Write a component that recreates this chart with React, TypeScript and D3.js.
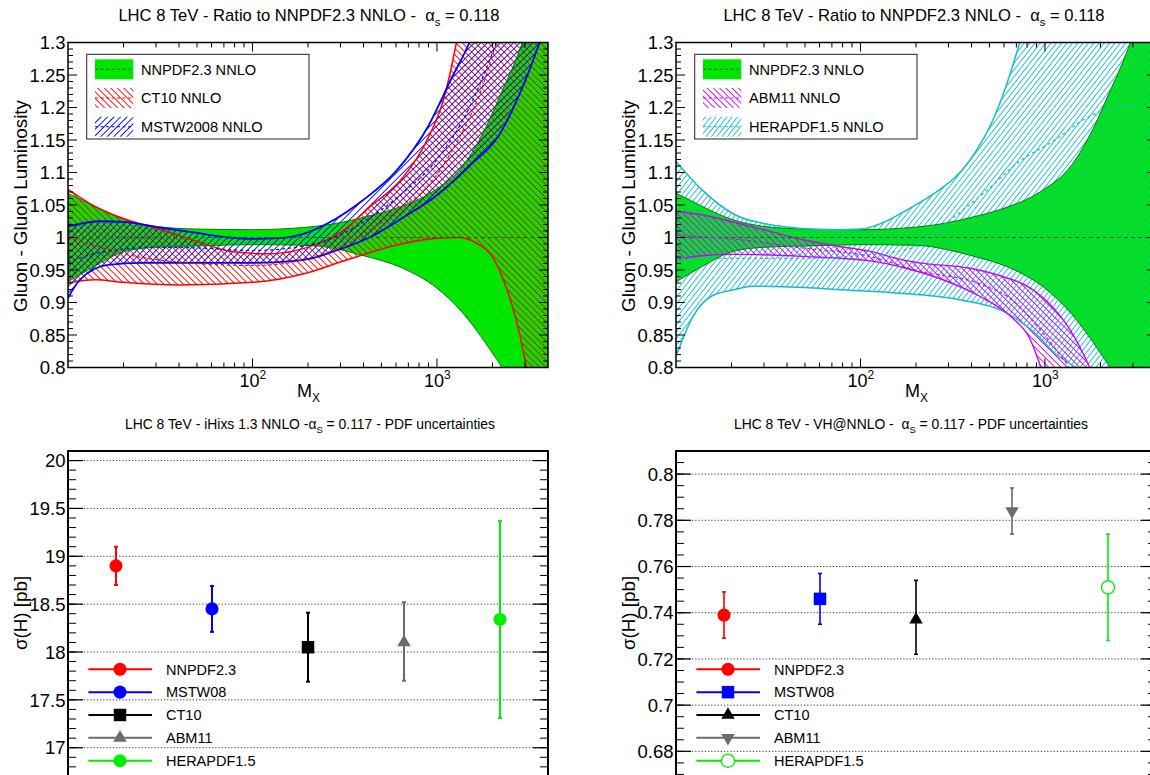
import React from "react";
import * as d3 from "d3";

const FONT = "'Liberation Sans', Arial, Helvetica, sans-serif";

// ---------------- Top panels: gluon-gluon luminosity ratios ----------------
// NNPDF2.3 NNLO (reference band)
const nnpdfUpM = [10, 12, 15, 20, 30, 50, 100, 200, 300, 400, 600, 940, 1400, 1830, 2250, 2600, 2900, 4000];
const nnpdfUp = [1.068, 1.057, 1.043, 1.028, 1.017, 1.013, 1.012, 1.016, 1.023, 1.031, 1.045, 1.07, 1.112, 1.168, 1.225, 1.265, 1.3, 1.48];
const nnpdfLoM = [10, 12, 15, 20, 30, 50, 100, 200, 300, 400, 650, 1000, 1350, 1650, 2000, 2250, 3000, 4000];
const nnpdfLo = [0.932, 0.945, 0.961, 0.978, 0.985, 0.987, 0.989, 0.988, 0.981, 0.972, 0.953, 0.922, 0.887, 0.856, 0.822, 0.8, 0.7, 0.55];
const nnpdfCenM = [10, 4000];
const nnpdfCen = [1, 1];

// CT10 NNLO
const ct10UpM = [10, 13, 19.6, 32, 50, 79, 124, 195, 244, 305, 428, 652, 913, 1080, 1275, 1500, 2500, 4000];
const ct10Up = [1.074, 1.053, 1.03, 1.012, 0.994, 0.978, 0.975, 0.984, 0.994, 1.009, 1.046, 1.092, 1.158, 1.21, 1.3, 1.42, 2.0, 3.0];
const ct10LoM = [10, 14, 20, 40, 100, 195, 305, 382, 598, 939, 1290, 1650, 2070, 2500, 2800, 3050, 4000];
const ct10Lo = [0.93, 0.935, 0.931, 0.927, 0.931, 0.945, 0.963, 0.972, 0.988, 0.998, 1.0, 0.991, 0.963, 0.904, 0.853, 0.8, 0.5];
const ct10CenM = [10, 15, 20, 30, 50, 100, 150, 200, 300, 400, 600, 900, 1300, 1700, 2100];
const ct10Cen = [1.0, 0.985, 0.975, 0.966, 0.96, 0.957, 0.96, 0.968, 0.985, 1.005, 1.04, 1.08, 1.15, 1.22, 1.3];

// MSTW2008 NNLO
const mstwUpM = [10, 15, 20, 32, 50, 74, 100, 140, 200, 280, 400, 600, 900, 1200, 1500, 2000, 4000];
const mstwUp = [1.017, 1.025, 1.024, 1.015, 1.007, 1.0, 0.998, 0.999, 1.008, 1.028, 1.058, 1.102, 1.172, 1.245, 1.3, 1.4, 2.2];
const mstwLoM = [10, 11.6, 16.5, 25, 50, 100, 170, 210, 285, 430, 650, 1000, 1500, 2200, 2700, 3200, 3600, 4000];
const mstwLo = [0.907, 0.935, 0.958, 0.961, 0.961, 0.961, 0.964, 0.968, 0.98, 1.0, 1.03, 1.065, 1.11, 1.16, 1.21, 1.26, 1.3, 1.34];
const mstwCenM = [10, 15, 30, 50, 100, 200, 300, 430, 650, 1000, 1500, 2100];
const mstwCen = [0.962, 0.977, 0.985, 0.984, 0.98, 0.988, 1.004, 1.03, 1.068, 1.12, 1.2, 1.3];

// ABM11 NNLO
const abmUpM = [10, 13.75, 20.9, 31.8, 48, 74, 112, 167, 210, 387, 589, 826, 1107, 1348, 1753, 4000];
const abmUp = [1.04, 1.035, 1.023, 1.01, 0.997, 0.987, 0.979, 0.966, 0.961, 0.953, 0.94, 0.923, 0.892, 0.861, 0.8, 0.5];
const abmLoM = [10, 13.75, 20.9, 48, 112, 180, 280, 440, 668, 826, 950, 1100, 4000];
const abmLo = [0.966, 0.972, 0.974, 0.971, 0.964, 0.952, 0.935, 0.91, 0.876, 0.845, 0.8, 0.74, 0.3];
const abmCenM = [10, 20, 48, 112, 210, 440, 690, 900, 1200, 1350, 2000];
const abmCen = [1.003, 0.998, 0.984, 0.971, 0.948, 0.929, 0.9, 0.865, 0.82, 0.8, 0.6];

// HERAPDF1.5 NNLO
const heraUpM = [10, 13.75, 20.9, 31.8, 48, 74, 100, 140, 170, 210, 255, 390, 540, 730, 1000, 1500, 4000];
const heraUp = [1.117, 1.074, 1.035, 1.02, 1.014, 1.012, 1.013, 1.026, 1.039, 1.054, 1.069, 1.118, 1.19, 1.3, 1.45, 1.8, 3.0];
const heraLoM = [10, 12.4, 15.6, 20.9, 26, 50, 74, 150, 210, 350, 590, 900, 1150, 1450, 2000, 3000, 4000];
const heraLo = [0.817, 0.879, 0.91, 0.92, 0.925, 0.923, 0.92, 0.915, 0.912, 0.904, 0.887, 0.851, 0.82, 0.8, 0.75, 0.65, 0.55];
const heraCenM = [10, 20, 50, 100, 190, 300, 478, 727, 1107, 1684, 2560, 4000];
const heraCen = [0.967, 0.968, 0.968, 0.972, 0.984, 1.025, 1.071, 1.117, 1.148, 1.184, 1.202, 1.207];

const topYTicks = [0.8, 0.85, 0.9, 0.95, 1, 1.05, 1.1, 1.15, 1.2, 1.25, 1.3];
const topYLabels = ["0.8", "0.85", "0.9", "0.95", "1", "1.05", "1.1", "1.15", "1.2", "1.25", "1.3"];
const topXMajor = [100, 1000];
const topXMajorExp = ["2", "3"];
const topXMinor = [20, 30, 40, 50, 60, 70, 80, 90, 200, 300, 400, 500, 600, 700, 800, 900, 2000, 3000];

// ---------------- Bottom panels: cross sections ----------------
const pdfNames = ["NNPDF2.3", "MSTW08", "CT10", "ABM11", "HERAPDF1.5"];
const pdfColors = ["#ff0000", "#0000ff", "#000000", "#6b6b6b", "#00ee00"];
const ggHVal = [18.9, 18.45, 18.05, 18.1, 18.34];
const ggHHi = [19.1, 18.69, 18.41, 18.52, 19.37];
const ggHLo = [18.7, 18.21, 17.69, 17.7, 17.31];
const ggHMarkers = ["circle", "circle", "square", "triUp", "circle"];
const vhVal = [0.739, 0.746, 0.737, 0.784, 0.751];
const vhHi = [0.749, 0.757, 0.754, 0.794, 0.774];
const vhLo = [0.729, 0.735, 0.722, 0.774, 0.728];
const vhMarkers = ["circle", "square", "triUp", "triDown", "openCircle"];
const ggHYTicks = [17, 17.5, 18, 18.5, 19, 19.5, 20];
const ggHYLabels = ["17", "17.5", "18", "18.5", "19", "19.5", "20"];
const vhYTicks = [0.68, 0.7, 0.72, 0.74, 0.76, 0.78, 0.8];
const vhYLabels = ["0.68", "0.7", "0.72", "0.74", "0.76", "0.78", "0.8"];

// ---------------- layout ----------------
const COLS = [
  { x0: 68, x1: 548 },
  { x0: 676, x1: 1156 },
];
const TOP = { y0: 42.5, y1: 367.5 };
const BOT = { y0: 451, y1: 786 };
const GREEN = "#00e600";
const RED = "#ff0000";
const BLUE = "#0000ff";
const MAGENTA = "#cc00ff";
const CYAN = "#16bccc";

const HATCHES = [
  { id: "hRed", color: RED, angle: -45, gap: 4.6, w: 0.9 },
  { id: "hBlue", color: BLUE, angle: 45, gap: 4.6, w: 0.9 },
  { id: "hMag", color: MAGENTA, angle: -45, gap: 4.4, w: 0.9 },
  { id: "hCyan", color: CYAN, angle: 38, gap: 4.2, w: 0.9 },
];

const zip = (ms: number[], vs: number[]) => ms.map((m, i) => [m, vs[i]] as [number, number]);

type Band = {
  up: [number, number][];
  lo: [number, number][];
  cen: [number, number][];
  fill: string;
  line: string;
  lw: number;
  cenColor: string;
};

const nnpdfBand: Band = {
  up: zip(nnpdfUpM, nnpdfUp),
  lo: zip(nnpdfLoM, nnpdfLo),
  cen: zip(nnpdfCenM, nnpdfCen),
  fill: GREEN,
  line: "#0a7a0a",
  lw: 1,
  cenColor: "#2c5a2c",
};
const leftBands: Band[] = [
  nnpdfBand,
  { up: zip(ct10UpM, ct10Up), lo: zip(ct10LoM, ct10Lo), cen: zip(ct10CenM, ct10Cen), fill: "url(#hRed)", line: RED, lw: 1.5, cenColor: RED },
  { up: zip(mstwUpM, mstwUp), lo: zip(mstwLoM, mstwLo), cen: zip(mstwCenM, mstwCen), fill: "url(#hBlue)", line: BLUE, lw: 1.8, cenColor: BLUE },
];
const rightBands: Band[] = [
  nnpdfBand,
  { up: zip(heraUpM, heraUp), lo: zip(heraLoM, heraLo), cen: zip(heraCenM, heraCen), fill: "url(#hCyan)", line: CYAN, lw: 1.5, cenColor: CYAN },
  { up: zip(abmUpM, abmUp), lo: zip(abmLoM, abmLo), cen: zip(abmCenM, abmCen), fill: "url(#hMag)", line: MAGENTA, lw: 1.4, cenColor: MAGENTA },
];
const leftLegend = [
  { label: "NNPDF2.3 NNLO", fill: GREEN, dash: "#2c5a2c" },
  { label: "CT10 NNLO", fill: "url(#hRed)", dash: RED },
  { label: "MSTW2008 NNLO", fill: "url(#hBlue)", dash: BLUE },
];
const rightLegend = [
  { label: "NNPDF2.3 NNLO", fill: GREEN, dash: "#2c5a2c" },
  { label: "ABM11 NNLO", fill: "url(#hMag)", dash: MAGENTA },
  { label: "HERAPDF1.5 NNLO", fill: "url(#hCyan)", dash: CYAN },
];

function Title({ x, y, size, pre, sub, post }: any) {
  return (
    <text x={x} y={y} fontSize={size} textAnchor="middle" fill="#000" style={{ whiteSpace: "pre" }}>
      <tspan>{pre}</tspan>
      <tspan dy={size * 0.3} fontSize={size * 0.68}>{sub}</tspan>
      <tspan dy={-size * 0.3}>{post}</tspan>
    </text>
  );
}

function RatioPanel({ col, bands, legend, idx }: { col: number; bands: Band[]; legend: any[]; idx: number }) {
  const { x0, x1 } = COLS[col];
  const { y0, y1 } = TOP;
  const sx = d3.scaleLog().domain([10, 4000]).range([x0, x1]);
  const sy = d3.scaleLinear().domain([0.8, 1.3]).range([y1, y0]);
  const line = d3
    .line<[number, number]>()
    .x((d) => sx(d[0]))
    .y((d) => sy(d[1]))
    .curve(d3.curveMonotoneX);
  const areaD = (b: Band) => line(b.up)! + "L" + line([...b.lo].reverse())!.slice(1) + "Z";
  const clipId = `clipTop${idx}`;
  const minorY = d3.range(0, 51).map((i) => 0.8 + i * 0.01);
  return (
    <g>
      <defs>
        <clipPath id={clipId}>
          <rect x={x0} y={y0} width={x1 - x0} height={y1 - y0} />
        </clipPath>
      </defs>
      <rect x={x0} y={y0} width={x1 - x0} height={y1 - y0} fill="#fff" />
      <g clipPath={`url(#${clipId})`}>
        {bands.map((b, i) => (
          <path key={"f" + i} d={areaD(b)} fill={b.fill} stroke="none" />
        ))}
        {bands.map((b, i) => (
          <g key={"l" + i}>
            <path d={line(b.up)!} fill="none" stroke={b.line} strokeWidth={b.lw} />
            <path d={line(b.lo)!} fill="none" stroke={b.line} strokeWidth={b.lw} />
          </g>
        ))}
        {bands.map((b, i) => (
          <path
            key={"c" + i}
            d={line(b.cen)!}
            fill="none"
            stroke={b.cenColor}
            strokeWidth={1.2}
            strokeDasharray={i === 0 ? "4,3" : "3,3"}
          />
        ))}
      </g>
      <rect x={x0} y={y0} width={x1 - x0} height={y1 - y0} fill="none" stroke="#000" strokeWidth={1.5} />
      {minorY.map((v, i) => {
        const major = i % 5 === 0;
        const len = major ? 9 : 5;
        return (
          <g key={"yt" + i} stroke="#000" strokeWidth={1}>
            <line x1={x0} x2={x0 + len} y1={sy(v)} y2={sy(v)} />
            <line x1={x1} x2={x1 - len} y1={sy(v)} y2={sy(v)} />
          </g>
        );
      })}
      {topYTicks.map((v, i) => (
        <text key={"yl" + i} x={x0 - 2.5} y={sy(v)} dy="0.36em" fontSize={18.5} textAnchor="end">
          {topYLabels[i]}
        </text>
      ))}
      {topXMinor.map((m, i) => (
        <g key={"xm" + i} stroke="#000" strokeWidth={1}>
          <line x1={sx(m)} x2={sx(m)} y1={y1} y2={y1 - 5} />
          <line x1={sx(m)} x2={sx(m)} y1={y0} y2={y0 + 5} />
        </g>
      ))}
      {topXMajor.map((m, i) => (
        <g key={"xM" + i}>
          <line x1={sx(m)} x2={sx(m)} y1={y1} y2={y1 - 9} stroke="#000" />
          <line x1={sx(m)} x2={sx(m)} y1={y0} y2={y0 + 9} stroke="#000" />
          <text x={sx(m) - 13} y={387} fontSize={18}>
            10<tspan dy={-8} fontSize={12}>{topXMajorExp[i]}</tspan>
          </text>
        </g>
      ))}
      <text x={x0 + 229} y={397} fontSize={18}>
        M<tspan dy={5} fontSize={12}>X</tspan>
      </text>
      <text transform={`translate(${x0 - 41},206) rotate(-90)`} fontSize={18.8} textAnchor="middle">
        Gluon - Gluon Luminosity
      </text>
      <rect x={x0 + 18.7} y={54.3} width={222.3} height={84.7} fill="#fff" stroke="#222" strokeWidth={1} />
      {legend.map((e, i) => {
        const cy = 69.3 + i * 28.7;
        return (
          <g key={"lg" + i}>
            <rect x={x0 + 27} y={cy - 10} width={38.3} height={20} fill={e.fill} />
            <line x1={x0 + 27} x2={x0 + 65.3} y1={cy} y2={cy} stroke={e.dash} strokeWidth={1.1} strokeDasharray="3,2.5" />
            <text x={x0 + 73} y={cy + 5.2} fontSize={14.6}>
              {e.label}
            </text>
          </g>
        );
      })}
      <Title
        x={(x0 + x1) / 2 + (col === 1 ? -2 : 1)}
        y={21}
        size={16.6}
        pre={"LHC 8 TeV - Ratio to NNPDF2.3 NNLO -  \u03b1"}
        sub={"s"}
        post={" = 0.118"}
      />
    </g>
  );
}

function Marker({ kind, x, y, color }: { kind: string; x: number; y: number; color: string }) {
  const map: any = {
    circle: [d3.symbolCircle, 135, 0],
    openCircle: [d3.symbolCircle, 135, 0],
    square: [d3.symbolSquare, 156, 0],
    triUp: [d3.symbolTriangle, 78, 0],
    triDown: [d3.symbolTriangle, 78, 180],
  };
  const [type, size, rot] = map[kind];
  const d = d3.symbol().type(type).size(size)()!;
  const open = kind === "openCircle";
  return (
    <path
      d={d}
      transform={`translate(${x},${y}) rotate(${rot})`}
      fill={open ? "#fff" : color}
      stroke={color}
      strokeWidth={open ? 1.3 : 0}
    />
  );
}

function XsecPanel({ col, vals, his, los, markers, domain, yTicks, yLabels, minorStep, barW, title }: any) {
  const { x0, x1 } = COLS[col];
  const { y0, y1 } = BOT;
  const sx = d3.scalePoint<string>().domain(pdfNames).range([x0, x1]).padding(0.5);
  const sy = d3.scaleLinear().domain(domain).range([y1, y0]);
  const nMinor = Math.round((domain[1] - domain[0]) / minorStep);
  const minorVals = d3.range(0, nMinor + 1).map((i) => domain[0] + i * minorStep);
  const clipId = `clipBot${col}`;
  return (
    <g>
      <defs>
        <clipPath id={clipId}>
          <rect x={x0} y={y0} width={x1 - x0} height={y1 - y0} />
        </clipPath>
      </defs>
      <g clipPath={`url(#${clipId})`}>
        {yTicks.map((v: number, i: number) => (
          <line key={"g" + i} x1={x0} x2={x1} y1={sy(v)} y2={sy(v)} stroke="#333" strokeWidth={1} strokeDasharray="1.2,2" />
        ))}
        {minorVals.map((v: number, i: number) => (
          <g key={"mt" + i} stroke="#000" strokeWidth={1}>
            <line x1={x0} x2={x0 + 8} y1={sy(v)} y2={sy(v)} />
            <line x1={x1} x2={x1 - 8} y1={sy(v)} y2={sy(v)} />
          </g>
        ))}
        {yTicks.map((v: number, i: number) => (
          <g key={"Mt" + i} stroke="#000" strokeWidth={1.2}>
            <line x1={x0} x2={x0 + 15} y1={sy(v)} y2={sy(v)} />
            <line x1={x1} x2={x1 - 15} y1={sy(v)} y2={sy(v)} />
          </g>
        ))}
      </g>
      {yTicks.map((v: number, i: number) => (
        <text key={"yl" + i} x={x0 - 2.5} y={sy(v)} dy="0.36em" fontSize={18.5} textAnchor="end">
          {yLabels[i]}
        </text>
      ))}
      {pdfNames.map((n, i) => {
        const x = sx(n)!;
        return (
          <g key={"pt" + i}>
            <line x1={x} x2={x} y1={sy(los[i])} y2={sy(his[i])} stroke={pdfColors[i]} strokeWidth={barW} />
            <line x1={x - 2} x2={x + 2} y1={sy(los[i])} y2={sy(los[i])} stroke={pdfColors[i]} strokeWidth={barW} />
            <line x1={x - 2} x2={x + 2} y1={sy(his[i])} y2={sy(his[i])} stroke={pdfColors[i]} strokeWidth={barW} />
            <Marker kind={markers[i]} x={x} y={sy(vals[i])} color={pdfColors[i]} />
          </g>
        );
      })}
      {pdfNames.map((n, i) => {
        const cy = 669.3 + i * 22.85;
        return (
          <g key={"lg" + i}>
            <line x1={x0 + 20.4} x2={x0 + 84} y1={cy} y2={cy} stroke={pdfColors[i]} strokeWidth={2} />
            <Marker kind={markers[i]} x={x0 + 52} y={cy} color={pdfColors[i]} />
            <text x={x0 + 98} y={cy + 5.2} fontSize={14.5}>
              {n}
            </text>
          </g>
        );
      })}
      <rect x={x0} y={y0} width={x1 - x0} height={y1 - y0} fill="none" stroke="#000" strokeWidth={2} />
      <text transform={`translate(${x0 - 41},613) rotate(-90)`} fontSize={18.8} textAnchor="middle">
        {"\u03c3(H) [pb]"}
      </text>
      <Title x={title.x} y={429} size={13.9} pre={title.pre} sub={"S"} post={title.post} />
    </g>
  );
}

export default function App() {
  return (
    <svg
      width={1150}
      height={775}
      viewBox="0 0 1150 775"
      style={{ position: "absolute", left: 0, top: 0, background: "#fff", fontFamily: FONT }}
    >
      <defs>
        {HATCHES.map((h) => (
          <pattern
            key={h.id}
            id={h.id}
            patternUnits="userSpaceOnUse"
            width={h.gap}
            height={h.gap}
            patternTransform={`rotate(${h.angle})`}
          >
            <line x1={h.gap / 2} y1={-1} x2={h.gap / 2} y2={h.gap + 1} stroke={h.color} strokeWidth={h.w} />
          </pattern>
        ))}
      </defs>
      <rect x={0} y={0} width={1150} height={775} fill="#fff" />
      <RatioPanel col={0} bands={leftBands} legend={leftLegend} idx={0} />
      <RatioPanel col={1} bands={rightBands} legend={rightLegend} idx={1} />
      <XsecPanel
        col={0}
        vals={ggHVal}
        his={ggHHi}
        los={ggHLo}
        markers={ggHMarkers}
        domain={[16.6, 20.1]}
        yTicks={ggHYTicks}
        yLabels={ggHYLabels}
        minorStep={0.1}
        barW={2}
        title={{ x: 310, pre: "LHC 8 TeV - iHixs 1.3 NNLO -\u03b1", post: " = 0.117 - PDF uncertainties" }}
      />
      <XsecPanel
        col={1}
        vals={vhVal}
        his={vhHi}
        los={vhLo}
        markers={vhMarkers}
        domain={[0.665, 0.81]}
        yTicks={vhYTicks}
        yLabels={vhYLabels}
        minorStep={0.005}
        barW={1.6}
        title={{ x: 911, pre: "LHC 8 TeV - VH@NNLO -  \u03b1", post: " = 0.117 - PDF uncertainties" }}
      />
    </svg>
  );
}
